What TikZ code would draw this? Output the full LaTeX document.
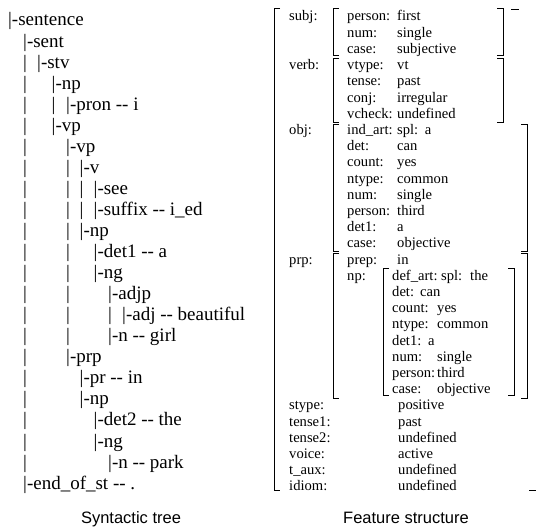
\documentclass[tikz,border=0pt]{standalone}
\usepackage{fontspec}
\setmainfont{Liberation Serif}
\newfontfamily\capfont{Liberation Sans}
\tikzset{
  tree/.style={anchor=base west, inner sep=0pt, font=\fontsize{19}{21}\selectfont},
  fs/.style={anchor=base west, inner sep=0pt, font=\fontsize{14.6}{16}\selectfont},
  captxt/.style={anchor=base, inner sep=0pt, font=\capfont\fontsize{16.5}{18}\selectfont},
  brk/.style={line width=0.9pt}
}
\newcommand\dd{-\kern0pt-}
\newcommand\TN[4]{\node[tree] (#1) at (#2,{26+21.05*#3}) {#4};}
\newcommand\FS[4]{\node[fs] (#1) at (#2,{21+16.2*#3}) {#4};}
\newcommand\LB[3]{\draw[brk] (#1+6,#2) -| (#1,#3) -- ++(6,0);}
\newcommand\RB[3]{\draw[brk] (#1-6,#2) -| (#1,#3) -- ++(-6,0);}
\begin{document}
\begin{tikzpicture}[x=1pt,y=-1pt]
\useasboundingbox (0,0) rectangle (538,527);
% ---------------- syntactic tree ----------------
\TN{t0}{8}{0}{|-sentence}
\TN{t1}{23}{1}{|-sent}
\TN{t2}{37}{2}{|-stv}
\TN{t3}{51.5}{3}{|-np}
\TN{t4}{66}{4}{|-pron \dd{} i}
\TN{t5}{51.5}{5}{|-vp}
\TN{t6}{66}{6}{|-vp}
\TN{t7}{79.5}{7}{|-v}
\TN{t8}{93.5}{8}{|-see}
\TN{t9}{93.5}{9}{|-suffix \dd{} i\_ed}
\TN{t10}{79.5}{10}{|-np}
\TN{t11}{93.5}{11}{|-det1 \dd{} a}
\TN{t12}{93.5}{12}{|-ng}
\TN{t13}{108}{13}{|-adjp}
\TN{t14}{122}{14}{|-adj \dd{} beautiful}
\TN{t15}{108}{15}{|-n \dd{} girl}
\TN{t16}{66}{16}{|-prp}
\TN{t17}{79.5}{17}{|-pr \dd{} in}
\TN{t18}{79.5}{18}{|-np}
\TN{t19}{93.5}{19}{|-det2 \dd{} the}
\TN{t20}{93.5}{20}{|-ng}
\TN{t21}{108}{21}{|-n \dd{} park}
\TN{t22}{23}{22}{|-end\_of\_st \dd{} .}
\foreach \r/\x [count=\i] in {2/23,3/23,4/23,4/51.5,5/23,6/23,7/23,7/66,
  8/23,8/66,8/79.5,9/23,9/66,9/79.5,10/23,10/66,11/23,11/66,12/23,12/66,
  13/23,13/66,14/23,14/66,14/108,15/23,15/66,16/23,17/23,18/23,19/23,20/23,21/23}
  \node[tree] (bar\i) at (\x,{26+21.05*\r}) {|};
\node[captxt] (captree) at (131,523) {Syntactic tree};
% ---------------- feature structure ----------------
% outer bracket
\LB{274}{8}{490}
\draw[brk] (511,9) -- (519,9);
\draw[brk] (529,490) -- (536,490);
% subj
\FS{subj}{289}{0}{subj:}
\LB{333}{8}{55}\RB{503}{8}{55}
\FS{s1}{347}{0}{person:}\FS{s1v}{397}{0}{first}
\FS{s2}{347}{1}{num:}\FS{s2v}{397}{1}{single}
\FS{s3}{347}{2}{case:}\FS{s3v}{397}{2}{subjective}
% verb
\FS{verb}{289}{3}{verb:}
\LB{333}{58}{122}\RB{503}{58}{122}
\FS{v1}{347}{3}{vtype:}\FS{v1v}{397}{3}{vt}
\FS{v2}{347}{4}{tense:}\FS{v2v}{397}{4}{past}
\FS{v3}{347}{5}{conj:}\FS{v3v}{397}{5}{irregular}
\FS{v4}{347}{6}{vcheck:}\FS{v4v}{397}{6}{undefined}
% obj
\FS{obj}{289}{7}{obj:}
\LB{333}{124}{251}\RB{527}{124}{251}
\FS{o1}{347}{7}{ind\_art:}\FS{o1v}{397}{7}{spl:\hspace{0.45em}a}
\FS{o2}{347}{8}{det:}\FS{o2v}{397}{8}{can}
\FS{o3}{347}{9}{count:}\FS{o3v}{397}{9}{yes}
\FS{o4}{347}{10}{ntype:}\FS{o4v}{397}{10}{common}
\FS{o5}{347}{11}{num:}\FS{o5v}{397}{11}{single}
\FS{o6}{347}{12}{person:}\FS{o6v}{397}{12}{third}
\FS{o7}{347}{13}{det1:}\FS{o7v}{397}{13}{a}
\FS{o8}{347}{14}{case:}\FS{o8v}{397}{14}{objective}
% prp
\FS{prp}{289}{15}{prp:}
\LB{333}{253}{398}\RB{527}{253}{398}
\FS{p1}{347}{15}{prep:}\FS{p1v}{397}{15}{in}
\FS{p2}{347}{16}{np:}
\LB{383}{268}{395}\RB{514}{268}{395}
\FS{n1}{392}{16}{def\_art:}\FS{n1a}{441}{16}{spl:}\FS{n1v}{470}{16}{the}
\FS{n2}{392}{17}{det:}\FS{n2v}{420}{17}{can}
\FS{n3}{392}{18}{count:}\FS{n3v}{437}{18}{yes}
\FS{n4}{392}{19}{ntype:}\FS{n4v}{437}{19}{common}
\FS{n5}{392}{20}{det1:}\FS{n5v}{428}{20}{a}
\FS{n6}{392}{21}{num:}\FS{n6v}{437}{21}{single}
\FS{n7}{392}{22}{person:}\FS{n7v}{437}{22}{third}
\FS{n8}{392}{23}{case:}\FS{n8v}{437}{23}{objective}
% rest
\FS{r1}{289}{24}{stype:}\FS{r1v}{398}{24}{positive}
\FS{r2}{289}{25}{tense1:}\FS{r2v}{398}{25}{past}
\FS{r3}{289}{26}{tense2:}\FS{r3v}{398}{26}{undefined}
\FS{r4}{289}{27}{voice:}\FS{r4v}{398}{27}{active}
\FS{r5}{289}{28}{t\_aux:}\FS{r5v}{398}{28}{undefined}
\FS{r6}{289}{29}{idiom:}\FS{r6v}{398}{29}{undefined}
\node[captxt] (capfs) at (406,523) {Feature structure};
\end{tikzpicture}
\end{document}
